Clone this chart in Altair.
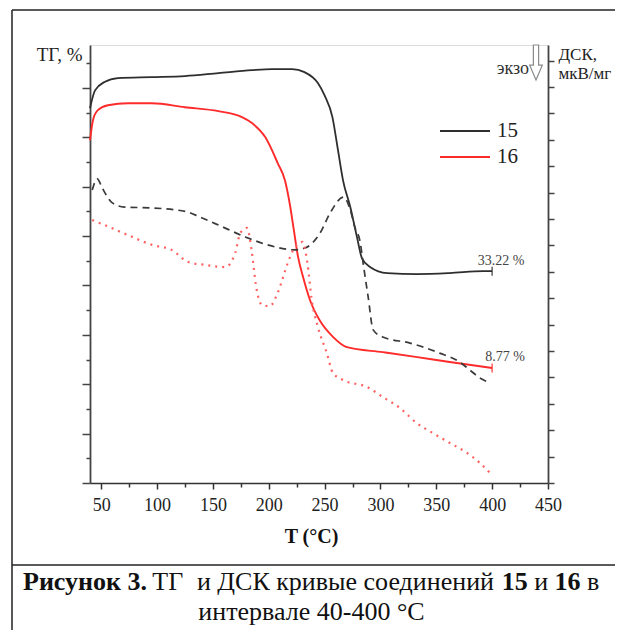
import altair as alt
import pandas as pd

SERIF = "Liberation Serif"

# ---------------- data ----------------
# TG curves (left axis, arbitrary units, no tick labels in the original)
tg15_T = [40, 44.5, 53, 65, 95, 125, 155, 185, 203, 221, 232, 244, 250, 257, 262, 266.5,
          273, 279, 283.5, 291, 306, 333, 362, 392, 400]
tg15_v = [75.9, 79.5, 81.2, 82.0, 82.2, 82.4, 83.0, 83.6, 83.8, 83.8, 83.2, 81.0, 78.5, 74.1,
          67.4, 61.3, 55.9, 49.8, 45.5, 43.7, 42.5, 42.3, 42.5, 42.9, 42.9]

tg16_T = [40, 42.7, 47, 56, 74, 95.5, 125, 155, 176, 185, 197, 208, 214.5, 219, 222.5, 226,
          231, 237, 246, 257.5, 270, 302, 333, 362, 400]
tg16_v = [69.4, 73.5, 75.5, 76.5, 76.9, 76.9, 76.1, 75.3, 74.1, 72.9, 70.0, 64.8, 61.3, 56.3,
          51.2, 46.1, 41.5, 37.0, 32.8, 29.6, 27.5, 26.5, 25.5, 24.5, 23.3]

# DSC curves (right axis, arbitrary units)
dsc15_T = [42, 46.5, 51, 60, 71, 95, 127, 138, 155, 179, 199, 223.5, 232.5, 246, 255, 267,
           273, 277, 282, 284.5, 289, 293.5, 302, 326.5, 353, 371, 380, 389, 396]
dsc15_d = [11.10, 11.52, 11.17, 10.61, 10.45, 10.42, 10.27, 10.08, 9.77, 9.32, 9.02, 8.83,
           8.90, 9.47, 10.23, 10.83, 10.34, 9.70, 9.09, 8.33, 7.05, 5.80, 5.53, 5.30, 4.92,
           4.58, 4.28, 3.98, 3.83]

dsc16_T = [42, 53, 74, 95.5, 113, 128, 143, 161, 170, 174.5, 180.5, 185, 188.5, 194, 201,
           208, 217, 223.5, 230, 234.5, 238.5, 244, 252, 257.5, 266.5, 288, 302, 317.5,
           332.5, 347, 362, 377.5, 389, 398]
dsc16_d = [9.96, 9.77, 9.39, 9.02, 8.83, 8.37, 8.26, 8.18, 8.71, 9.47, 9.66, 8.71, 7.50,
           6.74, 6.70, 7.20, 8.33, 8.94, 9.13, 8.37, 6.93, 5.91, 4.92, 4.17, 3.90, 3.64,
           3.26, 2.84, 2.27, 1.89, 1.52, 1.14, 0.76, 0.38]

residue_labels = ["33.22 %", "8.77 %"]
series_names = ["15", "16"]
x_ticks = list(range(50, 451, 25))
tg_ticks = list(range(0, 86, 5))
dsc_ticks = list(range(0, 17))

BLACK = "#2e2e2e"
RED = "#ff2b2b"
RED_DOT = "#ff6060"

tg15 = pd.DataFrame({"T": tg15_T, "v": tg15_v})
tg16 = pd.DataFrame({"T": tg16_T, "v": tg16_v})
dsc15 = pd.DataFrame({"T": dsc15_T, "d": dsc15_d})
dsc16 = pd.DataFrame({"T": dsc16_T, "d": dsc16_d})
end15 = pd.DataFrame({"T": [tg15_T[-1]], "v": [tg15_v[-1]], "lab": [residue_labels[0]]})
end16 = pd.DataFrame({"T": [tg16_T[-1]], "v": [tg16_v[-1]], "lab": [residue_labels[1]]})
one = pd.DataFrame({"k": [0]})

# ---------------- axes ----------------
x_axis = alt.Axis(
    values=x_ticks, grid=False,
    tickSize={"condition": {"test": "datum.value % 50 === 0", "value": 6}, "value": 4},
    labelExpr="datum.value % 50 === 0 ? datum.label : ''",
    labelFont=SERIF, labelFontSize=18, labelColor="#222", labelPadding=7,
    labelFlush=False, labelOverlap=False,
    domainColor="#333", domainWidth=1.6, tickColor="#333", tickWidth=1.5,
    title="T (°C)", titleFont=SERIF, titleFontSize=20, titleFontWeight="bold",
    titleColor="#111", titleX=221, titleY=59, titleAlign="center",
    titleBaseline="alphabetic",
)
left_axis = alt.Axis(
    orient="left", values=tg_ticks, grid=False, labels=False,
    tickSize={"condition": {"test": "datum.value % 10 === 0", "value": 8}, "value": 4},
    domainColor="#444", domainWidth=1.8, tickColor="#444", tickWidth=1.5,
    title="ТГ, %", titleFont=SERIF, titleFontSize=19, titleFontWeight="normal",
    titleColor="#222", titleAngle=0, titleX=-8, titleY=15, titleAlign="right",
    titleBaseline="alphabetic",
)
right_axis = alt.Axis(
    orient="right", values=dsc_ticks, grid=False, labels=False, tickSize=6,
    domainColor="#444", domainWidth=1.8, tickColor="#444", tickWidth=1.5,
    title=["ДСК,", "мкВ/мг"], titleFont=SERIF, titleFontSize=17, titleFontWeight="normal",
    titleColor="#222", titleAngle=0, titleX=10, titleY=14, titleAlign="left",
    titleBaseline="alphabetic", titleLineHeight=19,
)

x_enc = alt.X("T:Q", scale=alt.Scale(domain=[40, 450], nice=False, zero=False), axis=x_axis)
y_tg = alt.Y("v:Q", scale=alt.Scale(domain=[0, 88.7], nice=False, zero=False), axis=left_axis)
y_dsc = alt.Y("d:Q", scale=alt.Scale(domain=[0, 16.59], nice=False, zero=False), axis=right_axis)

# ---------------- TG layers ----------------
l_tg15 = alt.Chart(tg15).mark_line(color=BLACK, strokeWidth=1.8, interpolate="monotone").encode(x=x_enc, y=y_tg)
l_tg16 = alt.Chart(tg16).mark_line(color=RED, strokeWidth=1.9, interpolate="monotone").encode(x=x_enc, y=y_tg)
t15 = alt.Chart(end15).mark_tick(orient="vertical", size=9, thickness=1.6, color=BLACK).encode(x=x_enc, y=y_tg)
t16 = alt.Chart(end16).mark_tick(orient="vertical", size=9, thickness=1.6, color=RED).encode(x=x_enc, y=y_tg)
txt15 = alt.Chart(end15).mark_text(font=SERIF, fontSize=14, color="#444", dx=9, dy=-10,
                                   baseline="middle").encode(x=x_enc, y=y_tg, text="lab:N")
txt16 = alt.Chart(end16).mark_text(font=SERIF, fontSize=14, color="#444", dx=13, dy=-11,
                                   baseline="middle").encode(x=x_enc, y=y_tg, text="lab:N")
tg_group = alt.layer(l_tg15, l_tg16, t15, t16, txt15, txt16)

# ---------------- DSC layers ----------------
l_d15 = alt.Chart(dsc15).mark_line(color="#3a3a3a", strokeWidth=1.7, strokeDash=[7, 5],
                                   interpolate="monotone").encode(x=x_enc, y=y_dsc)
l_d16 = alt.Chart(dsc16).mark_line(color=RED_DOT, strokeWidth=2.2, strokeDash=[2, 5],
                                   interpolate="monotone").encode(x=x_enc, y=y_dsc)
dsc_group = alt.layer(l_d15, l_d16)

# ---------------- decorations (legend, frame, caption) ----------------
def rule(x, y, x2=None, y2=None, color="#222", w=1.5):
    enc = {"x": alt.value(x), "y": alt.value(y)}
    if x2 is not None:
        enc["x2"] = alt.value(x2)
    if y2 is not None:
        enc["y2"] = alt.value(y2)
    return alt.Chart(one).mark_rule(color=color, strokeWidth=w).encode(**enc)

def label(text, x, y, size, bold=False, align="left", baseline="alphabetic", color="#111"):
    props = dict(text=text, font=SERIF, fontSize=size, align=align, baseline=baseline, color=color)
    if bold:
        props["fontWeight"] = "bold"
    return alt.Chart(one).mark_text(**props).encode(x=alt.value(x), y=alt.value(y))

legend = [
    rule(350, 86, x2=400, color=BLACK, w=2.2),
    rule(350, 112, x2=400, color=RED, w=2.0),
    label(series_names[0], 407, 86, 21, baseline="middle", color="#222"),
    label(series_names[1], 407, 112, 21, baseline="middle", color="#222"),
]

arrow_path = "M -0.15 -1 L 0.15 -1 L 0.15 0.15 L 0.36 0.15 L 0 1 L -0.36 0.15 L -0.15 0.15 Z"
exo = [
    label("экзо", 439, 29, 18, align="right", color="#333"),
    alt.Chart(one).mark_point(shape=arrow_path, size=1225, filled=True, fill="white",
                              stroke="#8a8a8a", strokeWidth=1.2, opacity=1).encode(
        x=alt.value(446), y=alt.value(17.5)),
]

frame = [
    rule(-78, -35, x2=525),
    rule(-78, -35, y2=590),
    rule(-78, 520, x2=525),
]

CAP = 26
caption = [
    label("Рисунок 3.", -67, 545, CAP, bold=True),
    label("ТГ", 62.3, 545, CAP),
    label("и ДСК кривые соединений", 106.9, 545, CAP),
    label("15", 411.7, 545, CAP, bold=True),
    label("и", 444.2, 545, CAP),
    label("16", 464.6, 545, CAP, bold=True),
    label("в", 497.1, 545, CAP),
    label("интервале 40-400 °С", 221.5, 575, CAP, align="center"),
]

chart = alt.layer(tg_group, dsc_group, *legend, *exo, *frame, *caption).resolve_scale(
    y="independent"
).properties(
    width=458, height=438,
    autosize=alt.AutoSizeParams(type="none"),
    padding={"left": 82, "top": 37, "right": 67, "bottom": 147},
).configure_view(strokeWidth=0).configure(background="white")

chart.save("out.html", embed_options={"renderer": "svg", "actions": False})
